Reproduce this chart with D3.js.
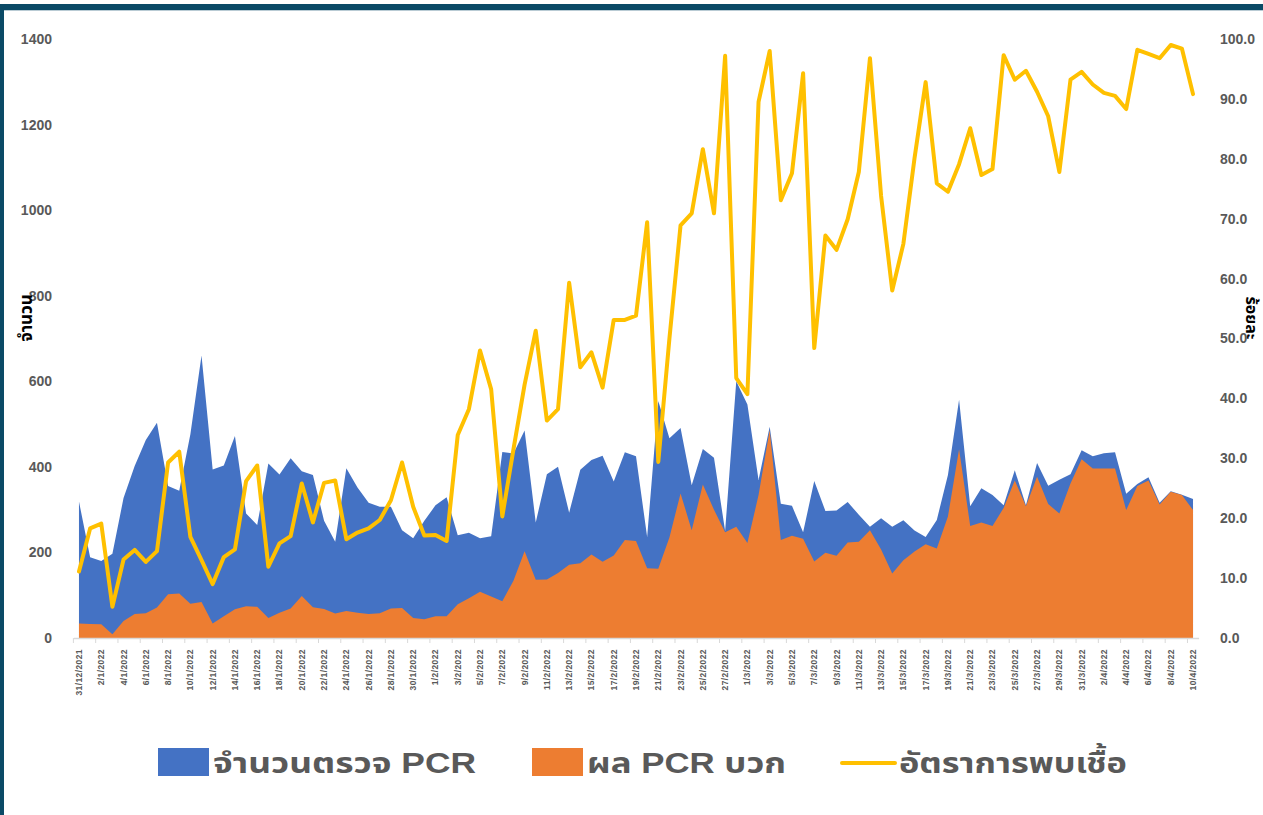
<!DOCTYPE html>
<html>
<head>
<meta charset="utf-8">
<script src="https://cdn.jsdelivr.net/npm/d3@7"></script>
<style>
  body { margin: 0; background: #fff; }
  svg { display: block; }
  text { font-family: "Liberation Sans", Arial, "Noto Sans Thai", "Tahoma", sans-serif; }
</style>
</head>
<body>
<svg width="1263" height="815"></svg>
<script>
// วันที่ 31/12/2021 - 10/4/2022 (รายวัน)
const dates = d3.timeDay.range(new Date(2021, 11, 31), new Date(2022, 3, 11)).map(d3.timeFormat('%-d/%-m/%Y'))

// จำนวนตรวจ PCR
const tests = [319, 189, 180, 197, 327, 402, 463, 503, 355, 344, 476, 660, 394, 403, 472, 291, 264, 408, 382, 420,
  390, 381, 274, 225, 397, 352, 316, 307, 307, 252, 233, 274, 310, 329, 240, 246, 233, 238, 435, 431,
  485, 270, 383, 400, 293, 393, 416, 426, 366, 434, 425, 236, 554, 467, 491, 357, 442, 421, 250, 600,
  546, 369, 494, 314, 309, 247, 367, 297, 298, 318, 288, 260, 280, 260, 275, 251, 236, 276, 381, 557,
  308, 350, 334, 310, 392, 310, 409, 356, 370, 383, 439, 425, 432, 434, 337, 360, 376, 316, 343, 335, 325]

// ผล PCR บวก
const positives = [34, 33, 32, 9, 40, 56, 58, 71, 102, 104, 80, 84, 34, 51, 67, 74, 73, 47, 59, 69,
  98, 72, 68, 57, 63, 59, 56, 58, 69, 70, 47, 44, 51, 51, 79, 93, 108, 97, 86, 134,
  203, 136, 137, 152, 171, 175, 195, 178, 193, 229, 227, 163, 162, 235, 338, 252, 359, 300, 247, 260,
  222, 334, 486, 229, 239, 232, 179, 199, 192, 223, 225, 252, 207, 151, 182, 202, 219, 209, 284, 441,
  262, 270, 262, 304, 368, 308, 377, 313, 291, 361, 418, 396, 396, 396, 299, 355, 368, 312, 342, 334, 299]

// อัตราการพบเชื้อ (%)
const rates = [11.1, 18.3, 19.1, 5.2, 13.1, 14.7, 12.7, 14.5, 29.3, 31.1, 16.9, 13.0, 9.0, 13.5, 14.8, 26.2, 28.8, 11.9, 15.8, 17.0,
  25.8, 19.3, 25.9, 26.3, 16.5, 17.6, 18.3, 19.7, 23.0, 29.3, 21.9, 17.1, 17.2, 16.2, 33.9, 38.2, 48.0, 41.5, 20.3, 31.5,
  42.3, 51.3, 36.3, 38.2, 59.3, 45.2, 47.7, 41.8, 53.1, 53.1, 53.8, 69.4, 29.4, 50.0, 68.9, 70.9, 81.6, 70.9, 97.2, 43.4,
  40.7, 89.5, 98.0, 73.1, 77.6, 94.3, 48.4, 67.2, 64.8, 69.9, 77.8, 96.8, 73.8, 58.0, 65.8, 80.1, 92.8, 75.9, 74.5, 79.1,
  85.1, 77.3, 78.3, 97.3, 93.2, 94.7, 91.2, 87.1, 77.8, 93.2, 94.5, 92.4, 91.0, 90.5, 88.3, 98.2, 97.5, 96.8, 99.0, 98.4, 90.8]

const leftTicks = [0, 200, 400, 600, 800, 1000, 1200, 1400]
const rightTicks = [0, 10, 20, 30, 40, 50, 60, 70, 80, 90, 100]
const legendItems = [
  { label: 'จำนวนตรวจ PCR', color: '#4472C4', type: 'area' },
  { label: 'ผล PCR บวก', color: '#ED7D31', type: 'area' },
  { label: 'อัตราการพบเชื้อ', color: '#FFC000', type: 'line' }
]

const svg = d3.select('svg'),
  plotTop = 39,
  plotBottom = 638,
  x = d3.scaleBand().domain(dates).range([73.4, 1198.6]).padding(0),
  bw = x.bandwidth(),
  cx = d => x(d) + bw / 2,
  yLeft = d3.scaleLinear().domain([0, 1400]).range([plotBottom, plotTop]),
  yRight = d3.scaleLinear().domain([0, 100]).range([plotBottom, plotTop])

// frame
svg.append('rect').attr('x', 0).attr('y', 4).attr('width', 1263).attr('height', 6).attr('fill', '#0b4a66')
svg.append('rect').attr('x', 0).attr('y', 10).attr('width', 1263).attr('height', 1).attr('fill', '#b9cbd4')
svg.append('rect').attr('x', 0).attr('y', 4).attr('width', 4).attr('height', 811).attr('fill', '#0b4a66')

// areas
const areaOf = vals => d3.area()
  .x((d, i) => cx(dates[i]))
  .y0(plotBottom)
  .y1(d => yLeft(d))(vals)

svg.append('path').attr('d', areaOf(tests)).attr('fill', '#4472C4')
svg.append('path').attr('d', areaOf(positives)).attr('fill', '#ED7D31')

// x axis
const xAxis = svg.append('g')
  .attr('transform', `translate(0, ${plotBottom})`)
  .call(d3.axisBottom(x).tickValues(dates.filter((d, i) => i % 2 === 0)).tickSizeInner(5).tickSizeOuter(0).tickPadding(4))
xAxis.select('.domain').attr('stroke', '#d9d9d9').attr('stroke-width', 1.5)
xAxis.selectAll('.tick line').attr('stroke', '#d9d9d9').attr('x1', -bw / 2).attr('x2', -bw / 2)
xAxis.selectAll('.tick text')
  .attr('transform', 'rotate(-90)')
  .attr('text-anchor', 'end')
  .attr('x', -11)
  .attr('y', 0)
  .attr('dy', '0.35em')
  .attr('fill', '#595959')
  .style('font-size', '8.5px')
  .style('font-weight', 'bold')
  .style('letter-spacing', '0.4px')

// left axis
const yl = svg.append('g')
  .attr('transform', 'translate(52, 0)')
  .call(d3.axisLeft(yLeft).tickValues(leftTicks).tickSize(0).tickPadding(0).tickFormat(d3.format('d')))
yl.select('.domain').remove()
yl.selectAll('text').attr('fill', '#595959').style('font-size', '14px').style('font-weight', 'bold')

// right axis
const yr = svg.append('g')
  .attr('transform', 'translate(1220, 0)')
  .call(d3.axisRight(yRight).tickValues(rightTicks).tickSize(0).tickPadding(0).tickFormat(d3.format('.1f')))
yr.select('.domain').remove()
yr.selectAll('text').attr('fill', '#595959').style('font-size', '14px').style('font-weight', 'bold')

// axis titles
svg.append('text').attr('transform', 'translate(32, 318) rotate(-90)')
  .attr('text-anchor', 'middle').style('font-size', '17px').style('font-weight', 'bold').attr('fill', '#000')
  .text('จำนวน')
svg.append('text').attr('transform', 'translate(1246, 318) rotate(90)')
  .attr('text-anchor', 'middle').style('font-size', '16px').style('font-weight', 'bold').attr('fill', '#000')
  .text('ร้อยละ')

// rate line
svg.append('path')
  .attr('d', d3.line().x((d, i) => cx(dates[i])).y(d => yRight(d))(rates))
  .attr('fill', 'none')
  .attr('stroke', '#FFC000')
  .attr('stroke-width', 4)
  .attr('stroke-linejoin', 'round')
  .attr('stroke-linecap', 'round')

// legend
const legendX = [158, 532, 842],
  legendTextW = [263, 199, 228]
const lg = svg.append('g').selectAll('g').data(legendItems).join('g')
  .attr('transform', (d, i) => `translate(${legendX[i]}, 748)`)
lg.filter(d => d.type === 'area').append('rect')
  .attr('width', 51).attr('height', 28).attr('fill', d => d.color)
lg.filter(d => d.type === 'line').append('line')
  .attr('x1', 0).attr('x2', 53).attr('y1', 15).attr('y2', 15)
  .attr('stroke', d => d.color).attr('stroke-width', 4).attr('stroke-linecap', 'round')
lg.append('text')
  .attr('x', (d, i) => i === 2 ? 57 : 55)
  .attr('y', 25)
  .attr('textLength', (d, i) => legendTextW[i])
  .attr('lengthAdjust', 'spacingAndGlyphs')
  .attr('fill', '#595959')
  .style('font-size', '29px')
  .style('font-weight', 'bold')
  .text(d => d.label)
</script>
</body>
</html>
